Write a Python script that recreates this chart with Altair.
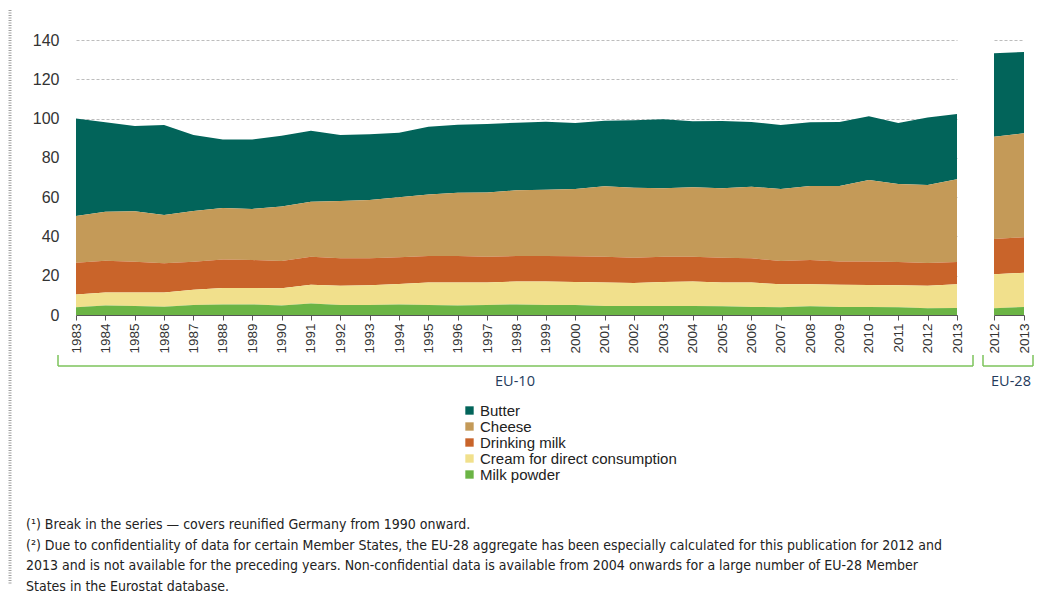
import altair as alt
import pandas as pd

# ---------------- data ----------------
series_names = ["Butter", "Cheese", "Drinking milk", "Cream for direct consumption", "Milk powder"]
series_colors = ["#02645A", "#C49A58", "#C9642A", "#F1E08C", "#6BB445"]
stack_rank = {"Milk powder": 0, "Cream for direct consumption": 1, "Drinking milk": 2, "Cheese": 3, "Butter": 4}

years_eu10 = list(range(1983, 2014))
butter_eu10 = [49.7, 45.5, 43.4, 45.8, 38.7, 34.9, 35.4, 36.1, 36.1, 33.6,
               33.4, 32.9, 34.5, 34.6, 34.8, 34.4, 34.6, 33.6, 33.4, 34.3,
               35.1, 33.6, 34.3, 33.0, 32.5, 32.4, 32.6, 32.5, 31.1, 34.3, 33.2]
cheese_eu10 = [23.8, 25.0, 25.7, 24.6, 25.8, 26.3, 26.0, 27.7, 28.0, 29.1,
               29.7, 30.5, 31.4, 32.3, 32.7, 33.5, 33.8, 34.3, 35.9, 35.6,
               34.9, 35.3, 35.3, 36.4, 36.7, 37.7, 38.4, 41.4, 39.7, 39.7, 42.1]
drinking_eu10 = [16.1, 16.1, 15.6, 14.8, 14.2, 14.5, 14.3, 13.9, 14.3, 14.0,
                 13.8, 13.6, 13.5, 13.4, 13.1, 13.0, 13.0, 13.1, 13.1, 12.9,
                 12.8, 12.6, 12.6, 12.4, 11.9, 12.4, 11.9, 12.0, 11.9, 11.6, 11.4]
cream_eu10 = [6.6, 6.6, 6.9, 7.3, 7.8, 8.3, 8.3, 8.8, 9.6, 9.8,
              10.0, 10.4, 11.4, 11.7, 11.5, 11.6, 11.9, 11.7, 11.9, 11.7,
              12.2, 12.5, 12.2, 12.4, 11.7, 11.2, 11.3, 11.2, 11.2, 11.5, 12.0]
powder_eu10 = [3.9, 4.9, 4.6, 4.2, 5.1, 5.4, 5.4, 4.8, 5.8, 5.1,
               5.1, 5.4, 5.1, 4.9, 5.1, 5.4, 5.1, 5.1, 4.6, 4.6,
               4.6, 4.6, 4.4, 4.1, 3.9, 4.4, 4.1, 4.1, 3.9, 3.4, 3.6]

years_eu28 = [2012, 2013]
butter_eu28 = [42.4, 41.4]
cheese_eu28 = [52.1, 52.9]
drinking_eu28 = [18.0, 18.1]
cream_eu28 = [17.3, 17.4]
powder_eu28 = [3.4, 4.1]

y_ticks = [0, 20, 40, 60, 80, 100, 120, 140]

footnotes = [
    "(\u00b9) Break in the series \u2014 covers reunified Germany from 1990 onward.",
    "(\u00b2) Due to confidentiality of data for certain Member States, the EU-28 aggregate has been especially calculated for this publication for 2012 and",
    "2013 and is not available for the preceding years. Non-confidential data is available from 2004 onwards for a large number of EU-28 Member",
    "States in the Eurostat database.",
]


def to_long(years, butter, cheese, drinking, cream, powder):
    rows = []
    for name, vals in zip(series_names, [butter, cheese, drinking, cream, powder]):
        for yr, v in zip(years, vals):
            rows.append({"year": yr, "series": name, "value": v, "rank": stack_rank[name]})
    return pd.DataFrame(rows)


df10 = to_long(years_eu10, butter_eu10, cheese_eu10, drinking_eu10, cream_eu10, powder_eu10)
df28 = to_long(years_eu28, butter_eu28, cheese_eu28, drinking_eu28, cream_eu28, powder_eu28)

FONT = "Arial, Liberation Sans"
NARROW = "Liberation Sans Narrow, DejaVu Sans Condensed, Liberation Sans"
GREEN = "#7DC35B"
LABEL_COL = "#333333"
GRID_COL = "#BDBDBD"

color_enc = alt.Color(
    "series:N",
    scale=alt.Scale(domain=series_names, range=series_colors),
    legend=alt.Legend(
        title=None, orient="none", legendX=386, legendY=363,
        symbolType="square", symbolSize=70, symbolStrokeWidth=0,
        labelFont=FONT, labelFontSize=15, labelColor="#222222", labelLimit=0,
        labelOffset=3, rowPadding=0, padding=0,
    ),
)


def x_axis(vals):
    return alt.Axis(values=vals, format="d", labelAngle=-90, title=None, grid=False,
                    labelFont=FONT, labelFontSize=13.5, labelColor=LABEL_COL,
                    labelPadding=3, tickSize=5, tickColor="#555555",
                    domainColor="#555555", labelFlush=False, labelOverlap=False)


def one_row():
    return pd.DataFrame({"k": [0]})


# ---------------- left panel (EU-10) ----------------
area10 = alt.Chart(df10).mark_area(interpolate="linear").encode(
    x=alt.X("year:Q", scale=alt.Scale(domain=[years_eu10[0], years_eu10[-1]], nice=False, zero=False),
            axis=x_axis(years_eu10)),
    y=alt.Y("value:Q", stack="zero", scale=alt.Scale(domain=[0, 140], nice=False),
            axis=alt.Axis(values=y_ticks, title=None, domain=False, ticks=False,
                          labelFont=FONT, labelFontSize=16, labelColor=LABEL_COL, labelPadding=17,
                          grid=True, gridColor=GRID_COL, gridDash=[3, 2], gridWidth=1)),
    color=color_enc,
    order=alt.Order("rank:Q", sort="ascending"),
)

br10_h = alt.Chart(one_row()).mark_rule(color=GREEN, strokeWidth=1.5).encode(
    x=alt.value(-18), x2=alt.value(897), y=alt.value(326))
br10_l = alt.Chart(one_row()).mark_rule(color=GREEN, strokeWidth=1.5).encode(
    x=alt.value(-18), y=alt.value(315), y2=alt.value(326))
br10_r = alt.Chart(one_row()).mark_rule(color=GREEN, strokeWidth=1.5).encode(
    x=alt.value(897), y=alt.value(315), y2=alt.value(326))
lab10 = alt.Chart(one_row()).mark_text(text="EU-10", font="Open Sans", fontSize=14.5,
                                        color="#243B5C", align="center", baseline="middle").encode(
    x=alt.value(439), y=alt.value(342))

notes = alt.Chart(one_row()).mark_text(text=footnotes, font=NARROW, fontSize=14, color="#222222",
                                       align="left", baseline="middle", lineHeight=20.5).encode(
    x=alt.value(-50), y=alt.value(485))

hatch = alt.Chart(one_row()).mark_rule(color="#A0A0A0", strokeWidth=3, strokeDash=[1, 1.5]).encode(
    x=alt.value(-66), y=alt.value(-30), y2=alt.value(545))

left = alt.layer(area10, br10_h, br10_l, br10_r, lab10, notes, hatch).properties(width=881, height=275)

# ---------------- right panel (EU-28) ----------------
area28 = alt.Chart(df28).mark_area(interpolate="linear").encode(
    x=alt.X("year:Q", scale=alt.Scale(domain=[years_eu28[0], years_eu28[-1]], nice=False, zero=False),
            axis=x_axis(years_eu28)),
    y=alt.Y("value:Q", stack="zero", scale=alt.Scale(domain=[0, 140], nice=False),
            axis=alt.Axis(values=y_ticks, title=None, domain=False, ticks=False, labels=False,
                          grid=True, gridColor=GRID_COL, gridDash=[3, 2], gridWidth=1)),
    color=color_enc,
    order=alt.Order("rank:Q", sort="ascending"),
)

br28_h = alt.Chart(one_row()).mark_rule(color=GREEN, strokeWidth=1.5).encode(
    x=alt.value(-11), x2=alt.value(39), y=alt.value(326))
br28_l = alt.Chart(one_row()).mark_rule(color=GREEN, strokeWidth=1.5).encode(
    x=alt.value(-11), y=alt.value(315), y2=alt.value(326))
br28_r = alt.Chart(one_row()).mark_rule(color=GREEN, strokeWidth=1.5).encode(
    x=alt.value(39), y=alt.value(315), y2=alt.value(326))
lab28 = alt.Chart(one_row()).mark_text(text="EU-28", font="Open Sans", fontSize=14.5,
                                        color="#243B5C", align="center", baseline="middle").encode(
    x=alt.value(17), y=alt.value(342))

right = alt.layer(area28, br28_h, br28_l, br28_r, lab28).properties(width=30, height=275)

chart = alt.hconcat(left, right, spacing=37, bounds="flush").resolve_scale(
    color="shared", x="independent", y="independent"
).configure_view(stroke=None).properties(padding=0, background="white")

chart.save("out.html", embed_options={"renderer": "svg", "actions": False})
